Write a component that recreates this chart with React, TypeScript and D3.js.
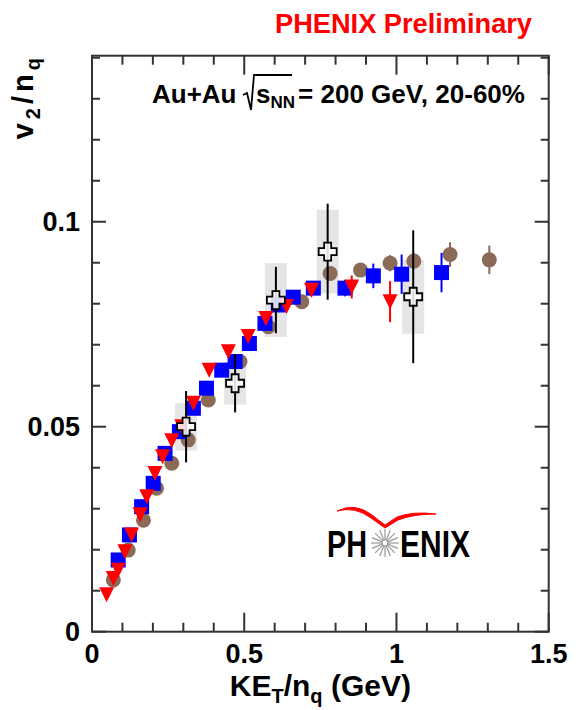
import React from 'react';
import * as d3 from 'd3';

const W = 579,
  H = 710;

// axis tick values / labels
const xMajorTicks = [0, 0.5, 1, 1.5];
const xTickLabels = ['0', '0.5', '1', '1.5'];
const yMajorTicks = [0, 0.05, 0.1];
const yTickLabels = ['0', '0.05', '0.1'];

// red down-triangles
const redX = [0.048, 0.07, 0.086, 0.108, 0.13, 0.158, 0.18, 0.207, 0.232, 0.262, 0.295, 0.333, 0.385, 0.448, 0.513, 0.571, 0.639, 0.721, 0.853, 0.979];
const redY = [0.009, 0.013, 0.015, 0.0195, 0.0236, 0.0285, 0.0329, 0.0386, 0.0427, 0.0466, 0.05, 0.0557, 0.0638, 0.0683, 0.072, 0.0764, 0.0793, 0.0833, 0.0841, 0.0805];
const redErr = [0.001, 0.001, 0.001, 0.001, 0.001, 0.001, 0.001, 0.001, 0.001, 0.001, 0.001, 0.001, 0.001, 0.001, 0.001, 0.001, 0.001, 0.0015, 0.0028, 0.005];

// blue squares
const blueX = [0.086, 0.123, 0.163, 0.201, 0.24, 0.287, 0.333, 0.376, 0.426, 0.47, 0.517, 0.568, 0.612, 0.661, 0.727, 0.831, 0.924, 1.017, 1.148];
const blueY = [0.0175, 0.0236, 0.0305, 0.0362, 0.0435, 0.0488, 0.0545, 0.0594, 0.0638, 0.0659, 0.0703, 0.0752, 0.0797, 0.0816, 0.0838, 0.0838, 0.0868, 0.0872, 0.0876];
const blueErr = [0.001, 0.001, 0.001, 0.001, 0.001, 0.001, 0.001, 0.001, 0.001, 0.001, 0.001, 0.001, 0.001, 0.001, 0.0015, 0.002, 0.003, 0.0048, 0.0048];

// brown circles
const brownX = [0.07, 0.119, 0.169, 0.212, 0.262, 0.316, 0.382, 0.486, 0.579, 0.689, 0.782, 0.882, 0.979, 1.057, 1.176, 1.305];
const brownY = [0.0126, 0.0199, 0.0272, 0.035, 0.0411, 0.0468, 0.0565, 0.0659, 0.0744, 0.0805, 0.0874, 0.0882, 0.0899, 0.0904, 0.092, 0.0907];
const brownErr = [0.001, 0.001, 0.001, 0.001, 0.001, 0.001, 0.001, 0.001, 0.001, 0.001, 0.0015, 0.0015, 0.002, 0.002, 0.003, 0.0035];

// open crosses with systematic boxes
const crossX = [0.309, 0.47, 0.604, 0.774, 1.055];
const crossY = [0.05, 0.0606, 0.0809, 0.0927, 0.0817];
const crossErr = [0.0087, 0.0071, 0.0081, 0.0117, 0.0162];
const crossSys = [0.0058, 0.0052, 0.009, 0.0102, 0.009];

const font = "'Liberation Sans', Arial, Helvetica, sans-serif";
const brown = '#8b6a57';

const zip = (xs: number[], ys: number[], es: number[]) => xs.map((v, i) => ({ x: v, y: ys[i], e: es[i] }));

export default function App() {
  const x = d3.scaleLinear().domain([0, 1.5]).range([92, 548.7]);
  const y = d3.scaleLinear().domain([0, 0.1405]).range([631.7, 55.7]);
  const [x0, x1] = x.range();
  const [y0, y1] = y.range();

  const isMajor = (v: number, step: number) => Math.abs(v / step - Math.round(v / step)) < 1e-6;

  const red = zip(redX, redY, redErr);
  const blue = zip(blueX, blueY, blueErr);
  const browns = zip(brownX, brownY, brownErr);
  const crosses = crossX.map((v, i) => ({ x: v, y: crossY[i], e: crossErr[i], s: crossSys[i] }));

  const a = 9,
    t = 3.5;
  const crossPath = `M${-t},${-a}H${t}V${-t}H${a}V${t}H${t}V${a}H${-t}V${t}H${-a}V${-t}H${-t}Z`;

  // logo starburst
  const rays = d3.range(16).map((i) => (i * Math.PI * 2) / 16);

  return (
    <svg width={W} height={H} style={{ position: 'absolute', left: 0, top: 0, background: '#fff' }} fontFamily={font}>
      {/* systematic boxes */}
      {crosses.map((d, i) => (
        <rect key={'b' + i} x={x(d.x) - 11} width={22} y={y(d.y + d.s)} height={y(d.y - d.s) - y(d.y + d.s)} fill="#e5e5e5" />
      ))}

      {/* brown circles */}
      {browns.map((d, i) => (
        <g key={'c' + i}>
          <line x1={x(d.x)} x2={x(d.x)} y1={y(d.y + d.e)} y2={y(d.y - d.e)} stroke={brown} strokeWidth={2} />
          <circle cx={x(d.x)} cy={y(d.y)} r={7.5} fill={brown} />
        </g>
      ))}

      {/* blue squares */}
      {blue.map((d, i) => (
        <g key={'s' + i}>
          <line x1={x(d.x)} x2={x(d.x)} y1={y(d.y + d.e)} y2={y(d.y - d.e)} stroke="#0000ff" strokeWidth={2} />
          <rect x={x(d.x) - 7.5} y={y(d.y) - 7.5} width={15} height={15} fill="#0000ff" />
        </g>
      ))}

      {/* red triangles */}
      {red.map((d, i) => (
        <g key={'t' + i}>
          <line x1={x(d.x)} x2={x(d.x)} y1={y(d.y + d.e)} y2={y(d.y - d.e)} stroke="#ff0000" strokeWidth={2} />
          <path d="M-7.5,-7.5L7.5,-7.5L0,7.5Z" transform={`translate(${x(d.x)},${y(d.y)})`} fill="#ff0000" />
        </g>
      ))}

      {/* open crosses */}
      {crosses.map((d, i) => (
        <g key={'x' + i}>
          <line x1={x(d.x)} x2={x(d.x)} y1={y(d.y + d.e)} y2={y(d.y - d.e)} stroke="#000" strokeWidth={2} />
          <path d={crossPath} transform={`translate(${x(d.x)},${y(d.y)})`} fill="#fff" fillOpacity={0.85} stroke="#000" strokeWidth={1.8} />
        </g>
      ))}

      {/* frame */}
      <rect x={x0} y={y1} width={x1 - x0} height={y0 - y1} fill="none" stroke="#333" strokeWidth={2} />

      {/* x ticks, bottom and top */}
      {x.ticks(15).map((v, i) => {
        const len = isMajor(v, 0.5) ? 19 : 9;
        return (
          <g key={'xt' + i} stroke="#333" strokeWidth={2}>
            <line x1={x(v)} x2={x(v)} y1={y0} y2={y0 - len} />
            <line x1={x(v)} x2={x(v)} y1={y1} y2={y1 + len} />
          </g>
        );
      })}
      {/* y ticks, left and right */}
      {y.ticks(14).map((v, i) => {
        const len = isMajor(v, 0.05) ? 14 : 8;
        return (
          <g key={'yt' + i} stroke="#333" strokeWidth={2}>
            <line x1={x0} x2={x0 + len} y1={y(v)} y2={y(v)} />
            <line x1={x1} x2={x1 - len} y1={y(v)} y2={y(v)} />
          </g>
        );
      })}

      {/* tick labels */}
      {xMajorTicks.map((v, i) => (
        <text key={'xl' + i} x={x(v)} y={663} textAnchor="middle" fontSize={27} fontWeight="bold">
          {xTickLabels[i]}
        </text>
      ))}
      {yMajorTicks.map((v, i) => (
        <text key={'yl' + i} x={80} y={y(v) + 9.5} textAnchor="end" fontSize={27} fontWeight="bold">
          {yTickLabels[i]}
        </text>
      ))}

      {/* axis titles */}
      <text x={(x0 + x1) / 2} y={696} textAnchor="middle" fontSize={30} fontWeight="bold">
        KE
        <tspan fontSize={20} dy={7}>T</tspan>
        <tspan dy={-7}>/n</tspan>
        <tspan fontSize={20} dy={7}>q</tspan>
        <tspan dy={-7}> (GeV)</tspan>
      </text>
      <text transform="translate(33,54) rotate(-90)" textAnchor="end" fontSize={29} fontWeight="bold" letterSpacing={4}>
        v<tspan fontSize={20} dy={7}>2</tspan>
        <tspan dy={-7}>/n</tspan>
        <tspan fontSize={20} dy={7}>q</tspan>
      </text>

      {/* header */}
      <text x={275} y={33} fontSize={27} fontWeight="bold" fill="#ff0000" textLength={257} lengthAdjust="spacingAndGlyphs">
        PHENIX Preliminary
      </text>

      {/* collision label */}
      <g fontWeight="bold" fontSize={26}>
        <text x={152} y={103}>Au+Au</text>
        <path d="M243,95 L247,93 L251,110 L254,75 L292,75" fill="none" stroke="#000" strokeWidth={1.8} />
        <text x={256} y={103}>
          s<tspan fontSize={17} dy={5}>NN</tspan>
        </text>
        <text x={298} y={103} textLength={227} lengthAdjust="spacingAndGlyphs">
          = 200 GeV, 20-60%
        </text>
      </g>

      {/* PHENIX logo */}
      <g>
        <path d="M337,511 Q355,502 372,515 L385,525 L397,517 Q413,511 436,514 Q413,514 398,520 L385,528 L371,518 Q355,506 337,511Z" fill="#ff0000" stroke="#ff0000" strokeWidth={1} />
        <text x={327} y={557} fontSize={37} fontWeight="bold" textLength={40} lengthAdjust="spacingAndGlyphs">
          PH
        </text>
        <g transform="translate(385,543)" stroke="#999" strokeWidth={1.2}>
          {rays.map((ang, i) => (
            <line key={'r' + i} x1={Math.cos(ang) * 3} y1={Math.sin(ang) * 3} x2={Math.cos(ang) * 14} y2={Math.sin(ang) * 14} />
          ))}
          <circle r={3} fill="#fff" />
        </g>
        <text x={400} y={557} fontSize={37} fontWeight="bold" textLength={70} lengthAdjust="spacingAndGlyphs">
          ENIX
        </text>
      </g>
    </svg>
  );
}
